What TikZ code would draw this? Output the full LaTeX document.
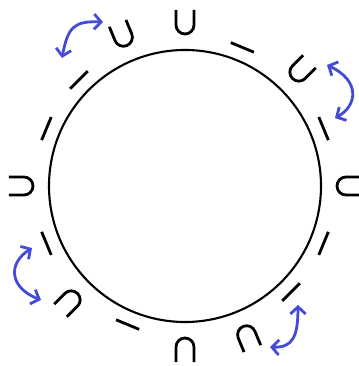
\documentclass[tikz,border=0pt]{standalone}
\usepackage{xcolor}
\usepackage{tikz}
\usetikzlibrary{arrows.meta}
\definecolor{flechaazul}{RGB}{68,76,214}

\begin{document}
\begin{tikzpicture}[x=0.03cm, y=0.03cm,
  cup/.pic={\draw[line width=2.4pt] (-9,12) -- (-9,-3) arc (180:360:9) -- (9,12);},
  bar/.pic={\draw[line width=2.4pt] (-12.5,0) -- (12.5,0);},
  giro/.style={{Straight Barb[length=6pt,width=13pt]}-{Straight Barb[length=6pt,width=13pt]}, line width=2.4pt, flechaazul}]
  \useasboundingbox (-185,-180) rectangle (173,186);

  % Circulo central
  \draw[line width=1.8pt] (0,0) circle (136);

  % Anillo exterior: U y guiones
  \pic[rotate=-90]    at (0:164)     {cup};
  \pic[rotate=-67.5]  at (22.5:150)  {bar};
  \pic[rotate=-45]    at (45:164)    {cup};
  \pic[rotate=-22.5]  at (67.5:150)  {bar};
  \pic[rotate=0]      at (90:164)    {cup};
  \pic[rotate=22.5]   at (112.5:164) {cup};
  \pic[rotate=45]     at (135:150)   {bar};
  \pic[rotate=67.5]   at (157.5:150) {bar};
  \pic[rotate=90]     at (180:164)   {cup};
  \pic[rotate=112.5]  at (202.5:150) {bar};
  \pic[rotate=135]    at (225:164)   {cup};
  \pic[rotate=157.5]  at (247.5:150) {bar};
  \pic[rotate=180]    at (270:164)   {cup};
  \pic[rotate=202.5]  at (292.5:164) {cup};
  \pic[rotate=225]    at (315:150)   {bar};
  \pic[rotate=247.5]  at (337.5:150) {bar};

  % Flechas de giro
  \coordinate (g1a) at (-123,128);
  \coordinate (g1b) at (-82,164);
  \draw[giro] (g1a) .. controls (-117,160) and (-110,165) .. (g1b);

  \coordinate (g2a) at (142,121);
  \coordinate (g2b) at (150,68);
  \draw[giro] (g2a) .. controls (176,105) and (172,80) .. (g2b);

  \coordinate (g3a) at (-153,-62);
  \coordinate (g3b) at (-144,-114);
  \draw[giro] (g3a) .. controls (-178,-78) and (-175,-102) .. (g3b);

  \coordinate (g4a) at (113,-119);
  \coordinate (g4b) at (85,-161);
  \draw[giro] (g4a) .. controls (113,-150) and (108,-162) .. (g4b);
\end{tikzpicture}
\end{document}
